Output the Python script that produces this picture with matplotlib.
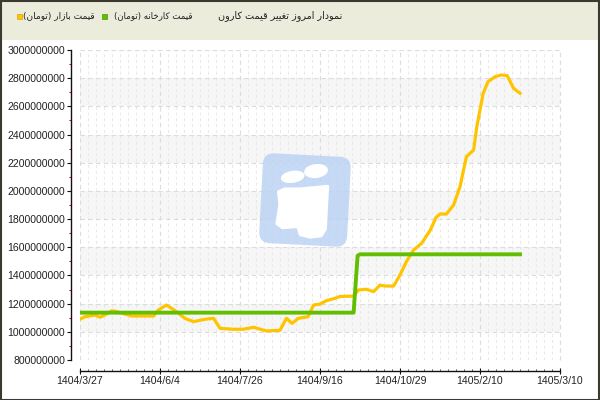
import matplotlib
matplotlib.use("Agg")
import matplotlib.pyplot as plt
from matplotlib import ft2font, font_manager
from matplotlib.patches import Rectangle, FancyBboxPatch, Ellipse, Polygon
from matplotlib.ticker import MultipleLocator, FixedLocator, FuncFormatter
from matplotlib.transforms import Affine2D

plt.rcParams["font.family"] = ["Liberation Sans", "DejaVu Sans"]

# ---------------- data ----------------
TITLE = "نمودار امروز تغییر قیمت کارون"
LEGEND_FACTORY = "قیمت کارخانه (تومان)"
LEGEND_MARKET = "قیمت بازار (تومان)"

x_tick_labels = ["1404/3/27", "1404/6/4", "1404/7/26", "1404/9/16",
                 "1404/10/29", "1405/2/10", "1405/3/10"]

# market price (toman, millions) — x in tick-interval units
market_x = [0.0, 0.06, 0.19, 0.25, 0.33, 0.40, 0.46, 0.56, 0.65, 0.77, 0.92,
            0.98, 1.08, 1.19, 1.31, 1.42, 1.56, 1.67, 1.75, 1.92, 2.04, 2.17,
            2.33, 2.50, 2.58, 2.65, 2.73, 2.85, 2.92, 3.00, 3.08, 3.19, 3.25,
            3.42, 3.48, 3.58, 3.67, 3.75, 3.81, 3.92, 4.00, 4.08, 4.17, 4.27,
            4.38, 4.45, 4.50, 4.58, 4.67, 4.75, 4.83, 4.92, 4.96, 5.00, 5.04,
            5.10, 5.19, 5.27, 5.34, 5.42, 5.50]
market_y = [1089, 1107, 1119, 1103, 1126, 1150, 1143, 1126, 1112, 1112, 1112,
            1155, 1190, 1150, 1096, 1072, 1089, 1096, 1025, 1018, 1018, 1032,
            1006, 1011, 1096, 1060, 1096, 1107, 1190, 1197, 1221, 1238, 1251,
            1253, 1297, 1302, 1285, 1332, 1325, 1325, 1403, 1498, 1581, 1628,
            1723, 1811, 1836, 1836, 1900, 2030, 2243, 2290, 2456, 2574, 2693,
            2775, 2811, 2823, 2818, 2728, 2693]

# factory price (toman, millions)
factory_x = [0.0, 3.42, 3.47, 3.50, 5.50]
factory_y = [1136, 1136, 1540, 1550, 1550]

SCALE = 1e6
y_ticks = list(range(800, 3001, 200))

# ---------------- Arabic-script shaping helper ----------------
try:
    _cm = ft2font.FT2Font(font_manager.findfont("DejaVu Sans")).get_charmap()
except Exception:
    _cm = {}

_FORMS = {
    "\u0627": (0xFE8D, 0xFE8E, None, None),
    "\u0628": (0xFE8F, 0xFE90, 0xFE91, 0xFE92),
    "\u062A": (0xFE95, 0xFE96, 0xFE97, 0xFE98),
    "\u062E": (0xFEA5, 0xFEA6, 0xFEA7, 0xFEA8),
    "\u062F": (0xFEA9, 0xFEAA, None, None),
    "\u0631": (0xFEAD, 0xFEAE, None, None),
    "\u0632": (0xFEAF, 0xFEB0, None, None),
    "\u063A": (0xFECD, 0xFECE, 0xFECF, 0xFED0),
    "\u0642": (0xFED5, 0xFED6, 0xFED7, 0xFED8),
    "\u0645": (0xFEE1, 0xFEE2, 0xFEE3, 0xFEE4),
    "\u0646": (0xFEE5, 0xFEE6, 0xFEE7, 0xFEE8),
    "\u0647": (0xFEE9, 0xFEEA, 0xFEEB, 0xFEEC),
    "\u0648": (0xFEED, 0xFEEE, None, None),
    "\u06A9": (0xFB8E, 0xFB8F, 0xFB90, 0xFB91),
    "\u06CC": (0xFBFC, 0xFBFD, 0xFBFE, 0xFBFF),
}
_FALLBACK = {
    "\u06A9": (0xFED9, 0xFEDA, 0xFEDB, 0xFEDC),
    "\u06CC": (0xFEEF, 0xFEF0, 0xFEF3, 0xFEF4),
}


def _table(c):
    f = _FORMS[c]
    if all((v is None) or (v in _cm) for v in f):
        return f
    return _FALLBACK.get(c, f)


def shape(s):
    if 0xFE8D not in _cm:
        return s
    out = []
    n = len(s)
    for i, c in enumerate(s):
        if c not in _FORMS:
            out.append(c)
            continue
        f = _table(c)
        prev = s[i - 1] if i > 0 else ""
        nxt = s[i + 1] if i < n - 1 else ""
        jp = prev in _FORMS and _table(prev)[2] is not None
        jn = f[2] is not None and nxt in _FORMS
        if jp and jn:
            code = f[3]
        elif jp:
            code = f[1]
        elif jn:
            code = f[2]
        else:
            code = f[0]
        out.append(chr(code))
    vis = "".join(reversed(out))
    return vis.translate(str.maketrans("()", ")("))


# ---------------- figure ----------------
W, H = 600, 400
fig = plt.figure(figsize=(6, 4), dpi=100, facecolor="white")

# header band and frame
fig.patches.append(Rectangle((0, 1 - 40 / H), 1, 40 / H, transform=fig.transFigure,
                             facecolor="#ECECDC", edgecolor="none", zorder=0))
fig.patches.append(Rectangle((0.5 / W, 0.5 / H), 1 - 1.5 / W, 1 - 1.5 / H,
                             transform=fig.transFigure, facecolor="none",
                             edgecolor="#3A3A30", linewidth=1.5, zorder=5))

ax = fig.add_axes([80 / W, 40 / H, 480 / W, 310 / H])
ax.set_xlim(0, 6)
ax.set_ylim(800 * SCALE, 3000 * SCALE)
ax.set_facecolor("none")

# alternating bands
for lo in range(1000, 3000, 400):
    ax.axhspan(lo * SCALE, (lo + 200) * SCALE, color="#F6F6F6", zorder=0, lw=0)

# ticks
ax.xaxis.set_major_locator(FixedLocator(range(len(x_tick_labels))))
ax.xaxis.set_major_formatter(FuncFormatter(
    lambda v, p: x_tick_labels[int(round(v))] if 0 <= round(v) < len(x_tick_labels) else ""))
ax.xaxis.set_minor_locator(MultipleLocator(0.1))
ax.yaxis.set_major_locator(FixedLocator([v * SCALE for v in y_ticks]))
ax.yaxis.set_major_formatter(FuncFormatter(lambda v, p: "%d" % round(v)))
ax.yaxis.set_minor_locator(MultipleLocator(100 * SCALE))

ax.tick_params(axis="x", which="major", direction="inout", length=4.3, width=0.8,
               color="#111111", pad=1.5, labelsize=7.6, labelcolor="#222222")
ax.tick_params(axis="x", which="minor", direction="in", length=1.6, width=0.6,
               color="#333333")
ax.tick_params(axis="y", which="major", direction="out", length=2.9, width=0.8,
               color="#111111", pad=1.2, labelsize=7.6, labelcolor="#222222")
ax.tick_params(axis="y", which="minor", direction="out", length=1.7, width=0.8,
               color="#E00000")

for side in ("top", "right"):
    ax.spines[side].set_visible(False)
ax.spines["left"].set_position(("outward", 6.7))
ax.spines["bottom"].set_position(("outward", 7.9))
ax.spines["left"].set_color("#111111")
ax.spines["bottom"].set_color("#111111")
ax.spines["left"].set_linewidth(1.0)
ax.spines["bottom"].set_linewidth(1.0)

# grid
ax.set_axisbelow(True)
ax.grid(True, which="major", axis="both", color="#DCDCDC", linestyle=(0, (4, 3)),
        linewidth=0.8)
ax.grid(True, which="minor", axis="x", color="#E8E8E8", linestyle=(0, (3, 3)),
        linewidth=0.7)
ax.axvline(6, color="#DCDCDC", linestyle=(0, (4, 3)), linewidth=0.8, zorder=0.5,
           clip_on=False)

# series
ax.plot(market_x, [v * SCALE for v in market_y], color="#FFC400", lw=2.3,
        solid_joinstyle="round", zorder=3)
ax.plot(factory_x, [v * SCALE for v in factory_y], color="#62BE00", lw=2.8,
        solid_joinstyle="round", zorder=4)

# ---------------- watermark logo ----------------
wax = fig.add_axes([255 / W, 1 - 252 / H, 102 / W, 104 / H])
wax.set_xlim(0, 102)
wax.set_ylim(0, 104)
wax.axis("off")
wax.patch.set_alpha(0)
cx, cy = 50, 52
rot = Affine2D().rotate_deg_around(cx, cy, -3) + wax.transData
box = FancyBboxPatch((cx - 38, cy - 39), 76, 78,
                     boxstyle="round,pad=6,rounding_size=11",
                     facecolor="#BCD3F4", edgecolor="none", alpha=0.85,
                     transform=rot)
wax.add_patch(box)


def P(px, py):
    return (px - 255, 252 - py)


wax.add_patch(Ellipse(P(291.5, 177.5), 24, 12, angle=12, facecolor="white",
                      edgecolor="none", transform=rot))
wax.add_patch(Ellipse(P(314.5, 170.5), 24, 14, angle=10, facecolor="white",
                      edgecolor="none", transform=rot))
body = [P(278, 193), P(284, 190), P(300, 189), P(327, 185), P(327, 228),
        P(323, 235), P(312, 237), P(302, 235), P(299, 227), P(284, 229),
        P(278, 225), P(280, 206)]
wax.add_patch(Polygon(body, closed=True, facecolor="white", edgecolor="white",
                      lw=2, joinstyle="round", transform=rot))

# ---------------- header texts ----------------
ty = 1 - 15.5 / H
hdr = dict(family="DejaVu Sans", color="#222222", va="center", ha="right")
fig.text(342 / W, ty, shape(TITLE), size=6.9, **hdr)
fig.text(192 / W, ty, shape(LEGEND_FACTORY), size=6.2, **hdr)
fig.text(95 / W, ty, shape(LEGEND_MARKET), size=6.5, **hdr)
fig.patches.append(Rectangle((102 / W, 1 - 18.5 / H), 5 / W, 5 / H,
                             transform=fig.transFigure, facecolor="#62BE00",
                             edgecolor="#4A9A00", lw=0.5, zorder=3))
fig.patches.append(Rectangle((16.5 / W, 1 - 18.5 / H), 5 / W, 5 / H,
                             transform=fig.transFigure, facecolor="#FFC400",
                             edgecolor="#D9A800", lw=0.5, zorder=3))

fig.savefig("out.png", dpi=100, facecolor="white")
